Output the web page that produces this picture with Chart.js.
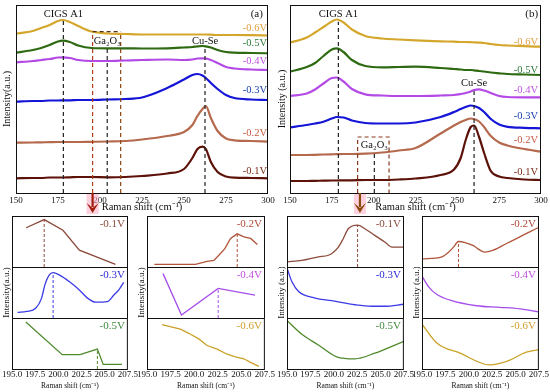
<!DOCTYPE html>
<html>
<head>
<meta charset="utf-8">
<script src="https://cdn.jsdelivr.net/npm/chart.js@4.4.1/dist/chart.umd.min.js"></script>
<style>
html, body { margin: 0; padding: 0; background: #fff; overflow: hidden; width: 550px; height: 392px; }
canvas { position: absolute; }
</style>
</head>
<body>
<script>
// ---- data ----
const voltages = ['-0.1V', '-0.2V', '-0.3V', '-0.4V', '-0.5V', '-0.6V'];

// panel (a): offset spectra
const shiftA = [150, 160, 165, 170, 175, 178, 182, 187, 195, 205, 215, 225, 240, 250, 255, 258, 261, 263, 266, 270, 275, 280, 290, 300];
const a01 = [14.7, 15, 15, 15.5, 15.5, 15.5, 15.7, 16, 16, 15.7, 16, 17, 19.5, 24, 35, 44, 46.3, 44, 31, 21, 16.5, 15.3, 15, 14.7];
const a02 = [50.3, 50.5, 50.7, 50.8, 51, 51, 51, 51, 51.2, 51.5, 52, 53.5, 57, 61, 68, 77, 84, 87, 75, 62, 54.5, 52.7, 52, 51.3];
const a03 = [91.3, 92, 92, 92.5, 92.5, 92.7, 92.7, 93, 93, 93.5, 94, 95.5, 105, 113.5, 118, 119, 117.5, 115, 110, 104, 98, 95, 93.5, 93];
const a04 = [130.7, 132, 133, 134, 135.5, 135.7, 135, 133, 132, 132, 132.5, 133, 133.5, 133, 133.5, 134.5, 134.7, 134.5, 133, 130, 126, 124.5, 123.5, 123];
const a05 = [140.3, 143, 145, 148, 151.5, 152.3, 151, 147.5, 145, 144.7, 144.7, 144.5, 144.7, 145.5, 146, 146.7, 147, 146.7, 145.5, 143, 141, 140.3, 140, 139.7];
const a06 = [159.5, 162, 165, 168, 172, 173, 171, 167, 161.5, 159.5, 159, 158.5, 158.5, 158.5, 158.5, 158.5, 158.5, 158.5, 158.3, 158, 158, 158, 157.8, 157.5];

// panel (b): offset spectra
const shiftB = [150, 160, 165, 170, 175, 178, 182, 187, 195, 205, 215, 225, 240, 248, 252, 255, 258, 260, 263, 266, 270, 275, 280, 290, 300];
const b01 = [12, 12, 12.2, 12.3, 12.5, 12.5, 12.7, 12.7, 13, 13, 13.5, 14.5, 18, 23.5, 35, 53, 66, 67.5, 56, 40, 22, 16.5, 15, 13.5, 13];
const b02 = [38, 38, 38.2, 38.5, 38.7, 38.8, 39, 39, 39.3, 40.5, 42.5, 45, 59.5, 67.5, 71, 73, 74.5, 74, 71.5, 66, 57, 50.5, 47.5, 44, 41.3];
const b03 = [65.7, 68, 69.5, 71.3, 74.5, 76, 75.5, 72.5, 70, 69.5, 69.5, 70.5, 76, 81, 84, 86, 87.5, 87, 85, 81, 74, 68.5, 66.2, 65.2, 64.7];
const b04 = [97, 99.5, 103.5, 109.5, 115, 115.5, 111.5, 104, 98.7, 97.5, 97, 97, 97.5, 98, 99, 100, 101.5, 103, 103.7, 102.5, 100, 97, 96, 95.7, 95.7];
const b05 = [121.3, 126, 130, 137, 143.5, 144.7, 141, 133, 127, 125.7, 126, 126.3, 125, 124, 123.5, 123, 123, 122.7, 122, 121.5, 120.5, 119.7, 119, 118.5, 118];
const b06 = [150.3, 155.5, 160.5, 166, 171.5, 173.5, 170.5, 163.5, 157, 154.5, 153.5, 152.7, 151.7, 151.3, 151, 151, 150.8, 150.7, 150.4, 150, 149, 148, 147.5, 146.8, 146.3];

// reference positions (cm-1)
const cigsA = 178.2, cuseA = 262.5, gaA = [195.6, 204.3, 212.3];
const cigsB = 178.9, cuseB = 260.0, gaB = [190.4, 200.4, 209.2];
const topTicks = [150, 175, 200, 225, 250, 275, 300];
const subTicks = [195, 197.5, 200, 202.5, 205, 207.5];

// zoomed Ga2O3 region, group 1 (from (a), odd voltages)
const g1x1 = [196.52, 198.47, 200.49, 202.26, 206.15];
const g1y1 = [0.77, 0.93, 0.72, 0.33, 0.05];
const g1x3 = [195.6, 196.59, 197.55, 198.19, 198.54, 199.0, 199.43, 200.13, 201.2, 202.26, 203.14, 204.03, 205.27, 205.98, 206.51, 207.04];
const g1y3 = [0.11, 0.13, 0.19, 0.39, 0.65, 0.84, 0.89, 0.84, 0.71, 0.55, 0.39, 0.31, 0.32, 0.45, 0.55, 0.70];
const g1x5 = [196.49, 200.42, 202.33, 204.21, 204.84, 206.86];
const g1y5 = [0.92, 0.28, 0.28, 0.39, 0.09, 0.09];
// group 2 (from (a), even voltages)
const g2x2 = [195.78, 200.13, 201.37, 202.08, 202.61, 203.25, 203.85, 204.56, 205.27, 205.98, 206.69];
const g2y2 = [0.05, 0.05, 0.11, 0.13, 0.23, 0.36, 0.56, 0.65, 0.59, 0.56, 0.44];
const g2x4 = [196.70, 198.65, 202.54, 206.44];
const g2y4 = [0.87, 0.06, 0.58, 0.45];
const g2x6 = [196.59, 198.54, 199.43, 200.49, 201.37, 202.44, 203.50, 204.38, 205.27, 205.98, 206.86];
const g2y6 = [0.87, 0.78, 0.70, 0.59, 0.46, 0.39, 0.29, 0.24, 0.20, 0.13, 0.05];
// group 3 (from (b), odd voltages)
const g3x1 = [195, 196.59, 198.36, 199.43, 200.49, 201.02, 201.55, 202.54, 203.32, 204.38, 205.45, 206.22, 207.5];
const g3y1 = [0.10, 0.13, 0.20, 0.23, 0.39, 0.56, 0.75, 0.82, 0.75, 0.62, 0.49, 0.39, 0.39];
const g3x3 = [195, 195.53, 196.24, 198.01, 199.78, 202.26, 204.03, 205.45, 207.5];
const g3y3 = [0.98, 0.71, 0.52, 0.39, 0.34, 0.26, 0.23, 0.23, 0.27];
const g3x5 = [195, 196.59, 198.36, 200.31, 202.26, 204.38, 206.15, 207.5];
const g3y5 = [0.95, 0.68, 0.47, 0.24, 0.20, 0.31, 0.44, 0.54];
// group 4 (from (b), even voltages)
const g4x2 = [195, 197.12, 197.83, 198.36, 198.90, 199.60, 200.49, 201.20, 201.73, 202.61, 204.03, 205.45, 206.51, 207.5];
const g4y2 = [0.16, 0.20, 0.29, 0.39, 0.50, 0.48, 0.42, 0.33, 0.29, 0.33, 0.46, 0.59, 0.69, 0.78];
const g4x4 = [195, 195.71, 196.59, 198.01, 200.84, 203.32, 205.45, 207.5];
const g4y4 = [0.82, 0.61, 0.46, 0.35, 0.24, 0.21, 0.18, 0.12];
const g4x6 = [195, 196.59, 199.07, 202.26, 204.21, 206.15, 207.5];
const g4y6 = [0.88, 0.51, 0.31, 0.08, 0.16, 0.33, 0.38];

// ---- styles ----
const serif = '"Liberation Serif", "Times New Roman", serif';
Chart.defaults.font.family = serif;
Chart.defaults.color = '#111';
Chart.defaults.animation = false;

const topLine = ['#5c1208', '#b5694d', '#1515d8', '#b44ae6', '#2d6a12', '#d4a72c'];
const topLabel = ['#7a2a18', '#c55a40', '#1a40b0', '#c050e0', '#2f7a3a', '#e0a040'];
const subLine = ['#8b4a3a', '#b0553a', '#3b3be6', '#a64dea', '#4f8a2f', '#c9a227'];
const subLabel = ['#8b4a3a', '#b04a3a', '#2b2bd6', '#c050e0', '#3f8a3f', '#d0a030'];

const framePlugin = {
    id: 'frame',
    afterDatasetsDraw(chart) {
        const a = chart.chartArea, ctx = chart.ctx;
        ctx.save();
        ctx.strokeStyle = '#111';
        ctx.lineWidth = 1;
        ctx.strokeRect(a.left + 0.5, a.top + 0.5, a.right - a.left - 1, a.bottom - a.top);
        ctx.restore();
    }
};

const notesPlugin = {
    id: 'notes',
    afterDraw(chart, args, opts) {
        const ctx = chart.ctx, xs = chart.scales.x, ys = chart.scales.y, a = chart.chartArea;
        (opts.arrows || []).forEach(ar => {
            const x = xs.getPixelForValue(ar.x);
            ctx.save();
            ctx.fillStyle = 'rgba(255,170,195,0.55)';
            ctx.fillRect(x - 6, a.bottom + 1, 12, ar.to - a.bottom);
            ctx.strokeStyle = ar.color;
            ctx.fillStyle = ar.color;
            ctx.lineWidth = 2.2;
            ctx.beginPath();
            ctx.moveTo(x, a.bottom);
            ctx.lineTo(x, ar.to - 6);
            ctx.stroke();
            ctx.beginPath();
            ctx.moveTo(x - 6, ar.to - 10);
            ctx.lineTo(x, ar.to);
            ctx.lineTo(x + 6, ar.to - 10);
            ctx.lineTo(x, ar.to - 5);
            ctx.closePath();
            ctx.fill();
            ctx.restore();
        });
        (opts.texts || []).forEach(n => {
            ctx.save();
            ctx.font = (n.size || 10.5) + 'px ' + serif;
            ctx.fillStyle = n.color || '#111';
            ctx.textAlign = n.right !== undefined ? 'right' : 'center';
            ctx.textBaseline = 'middle';
            const px = n.right !== undefined ? a.right - n.right : xs.getPixelForValue(n.x);
            const py = n.top !== undefined ? a.top + n.top : ys.getPixelForValue(n.y);
            ctx.fillText(n.t, px, py);
            ctx.restore();
        });
    }
};
Chart.register(framePlugin, notesPlugin);

function mk(l, t, w, h) {
    const c = document.createElement('canvas');
    c.width = w; c.height = h;
    c.style.left = l + 'px'; c.style.top = t + 'px';
    c.style.width = w + 'px'; c.style.height = h + 'px';
    document.body.appendChild(c);
    return c.getContext('2d');
}

function pts(xs, ys) {
    return ys.map((v, i) => ({ x: xs[i], y: v }));
}

function dashSet(points, color) {
    return { data: points, borderColor: color, borderWidth: 1.2, borderDash: [4, 3], pointRadius: 0, tension: 0, fill: false };
}

function topChart(ctx, shift, series, dashes, texts, arrow, yTitle, yWidth, padRight) {
    const lines = series.map((s, i) => ({
        data: pts(shift, s),
        borderColor: topLine[i],
        borderWidth: 2.2,
        pointRadius: 0,
        tension: 0.4,
        cubicInterpolationMode: 'monotone'
    }));
    new Chart(ctx, {
        type: 'line',
        data: { datasets: dashes.concat(lines) },
        options: {
            responsive: false,
            layout: { padding: { left: 0, right: padRight, top: 5, bottom: 0 } },
            plugins: { legend: { display: false }, tooltip: { enabled: false }, notes: { texts: texts, arrows: [arrow] } },
            scales: {
                x: {
                    type: 'linear', min: 150, max: 300,
                    afterBuildTicks: s => { s.ticks = topTicks.map(v => ({ value: v })); },
                    ticks: { font: { size: 9 }, padding: 2, color: '#111', maxRotation: 0, autoSkip: false },
                    grid: { display: false, drawTicks: false },
                    border: { display: false },
                    title: { display: true, text: 'Raman shift (cm⁻¹)', font: { size: 10.5 }, padding: { top: 0, bottom: 1.5 }, color: '#111' },
                    afterFit: s => { s.height = 22; }
                },
                y: {
                    min: 0, max: 188,
                    ticks: { display: false },
                    grid: { display: false, drawTicks: false },
                    border: { display: false },
                    title: { display: true, text: yTitle, font: { size: 10 }, padding: { top: 1, bottom: 0 }, color: '#111' },
                    afterFit: s => { s.width = yWidth; }
                }
            }
        }
    });
}

const vLabA = [21.3, 59.7, 102.3, 131.3, 149.7, 165];
const vLabB = [20.3, 53, 77, 103, 122.3, 150.3];

topChart(mk(0, 0, 280, 215), shiftA, [a01, a02, a03, a04, a05, a06],
    [
        dashSet([{ x: cigsA, y: 0 }, { x: cigsA, y: 173 }], '#222'),
        dashSet([{ x: cuseA, y: 0 }, { x: cuseA, y: 146 }], '#222'),
        dashSet([{ x: gaA[0], y: 0 }, { x: gaA[0], y: 161.3 }], '#b0401a'),
        dashSet([{ x: gaA[0], y: 161.3 }, { x: gaA[2], y: 161.3 }], '#5a3010'),
        dashSet([{ x: gaA[1], y: 0 }, { x: gaA[1], y: 144 }], '#222'),
        dashSet([{ x: gaA[2], y: 0 }, { x: gaA[2], y: 161.3 }], '#8b4513')
    ],
    [
        { t: 'CIGS A1', x: cigsA, y: 179 },
        { t: 'Ga₂O₃', x: gaA[1], y: 151.3 },
        { t: 'Cu-Se', x: cuseA, y: 151.3 },
        { t: '(a)', x: 293.3, y: 179, size: 11 }
    ].concat(voltages.map((v, i) => ({ t: v, right: 1, y: vLabA[i], color: topLabel[i] }))),
    { x: gaA[0], to: 213, color: '#a01c0c' },
    'Intensity(a.u.)', 16, 12);

topChart(mk(275, 0, 275, 215), shiftB, [b01, b02, b03, b04, b05, b06],
    [
        dashSet([{ x: cigsB, y: 0 }, { x: cigsB, y: 171.3 }], '#222'),
        dashSet([{ x: cuseB, y: 0 }, { x: cuseB, y: 103 }], '#222'),
        dashSet([{ x: gaB[0], y: 0 }, { x: gaB[0], y: 56 }, { x: gaB[2], y: 56 }, { x: gaB[2], y: 0 }], '#8b3a1a'),
        dashSet([{ x: gaB[1], y: 0 }, { x: gaB[1], y: 41 }], '#222')
    ],
    [
        { t: 'CIGS A1', x: cigsB, y: 179 },
        { t: 'Ga₂O₃', x: gaB[1], y: 48 },
        { t: 'Cu-Se', x: cuseB, y: 110 },
        { t: '(b)', x: 294.4, y: 179, size: 11 }
    ].concat(voltages.map((v, i) => ({ t: v, right: 3, y: vLabB[i], color: topLabel[i] }))),
    { x: 191.8, to: 213, color: '#8b4a12' },
    'Intensity (a.u.)', 15, 9);

// ---- zoomed sub panels ----
const rowTop = [216, 267, 318];
const rowH = 51;

function subChart(L, R, row, xs, ys, vi, peakX, smooth, yTitle) {
    const padL = 12, padR = 10;
    const h = row === 2 ? rowH + 23 : rowH;
    const ctx = mk(L - padL, rowTop[row], R - L + padL + padR, h);
    const sets = [{
        data: pts(xs, ys),
        borderColor: subLine[vi],
        borderWidth: 1.3,
        pointRadius: 0,
        tension: smooth ? 0.4 : 0,
        cubicInterpolationMode: smooth ? 'monotone' : 'default'
    }];
    if (peakX !== null) {
        const k = xs.indexOf(peakX);
        sets.push({ data: [{ x: peakX, y: 0 }, { x: peakX, y: ys[k] }], borderColor: subLine[vi], borderWidth: 1, borderDash: [3, 2], pointRadius: 0 });
    }
    new Chart(ctx, {
        type: 'line',
        data: { datasets: sets },
        options: {
            responsive: false,
            layout: { padding: { left: row === 1 ? 0 : padL, right: padR, top: 0, bottom: 0 } },
            plugins: {
                legend: { display: false }, tooltip: { enabled: false },
                notes: { texts: [{ t: voltages[vi], right: 3, top: 8, size: 11, color: subLabel[vi] }] }
            },
            scales: {
                x: {
                    type: 'linear', min: 195, max: 207.5,
                    display: row === 2,
                    afterBuildTicks: s => { s.ticks = subTicks.map(v => ({ value: v })); },
                    ticks: { font: { size: 9 }, padding: 0, color: '#111', maxRotation: 0, autoSkip: false, callback: v => v.toFixed(1) },
                    grid: { display: false, drawTicks: false },
                    border: { display: false },
                    title: { display: true, text: 'Raman shift (cm⁻¹)', font: { size: 7.5 }, padding: { top: 0, bottom: 1 }, color: '#111' },
                    afterFit: s => { if (row === 2) s.height = 23; }
                },
                y: {
                    min: 0, max: 1,
                    display: row === 1,
                    ticks: { display: false },
                    grid: { display: false, drawTicks: false },
                    border: { display: false },
                    title: { display: true, text: yTitle, font: { size: 9 }, padding: { top: 1, bottom: 0 }, color: '#111' },
                    afterFit: s => { if (row === 1) s.width = padL; }
                }
            }
        }
    });
}

subChart(12, 128, 0, g1x1, g1y1, 0, 198.47, false, 'Intensity(a.u.)');
subChart(12, 128, 1, g1x3, g1y3, 2, 199.43, true, 'Intensity(a.u.)');
subChart(12, 128, 2, g1x5, g1y5, 4, 204.21, false, 'Intensity(a.u.)');

subChart(147, 265, 0, g2x2, g2y2, 1, 204.56, false, 'Intensity(a.u.)');
subChart(147, 265, 1, g2x4, g2y4, 3, 202.54, false, 'Intensity(a.u.)');
subChart(147, 265, 2, g2x6, g2y6, 5, null, false, 'Intensity(a.u.)');

subChart(287, 404, 0, g3x1, g3y1, 0, 202.54, true, 'Intensity (a.u.)');
subChart(287, 404, 1, g3x3, g3y3, 2, null, true, 'Intensity (a.u.)');
subChart(287, 404, 2, g3x5, g3y5, 4, null, true, 'Intensity (a.u.)');

subChart(422, 539, 0, g4x2, g4y2, 1, 198.90, true, 'Intensity (a.u.)');
subChart(422, 539, 1, g4x4, g4y4, 3, null, true, 'Intensity (a.u.)');
subChart(422, 539, 2, g4x6, g4y6, 5, null, true, 'Intensity (a.u.)');
</script>
</body>
</html>
